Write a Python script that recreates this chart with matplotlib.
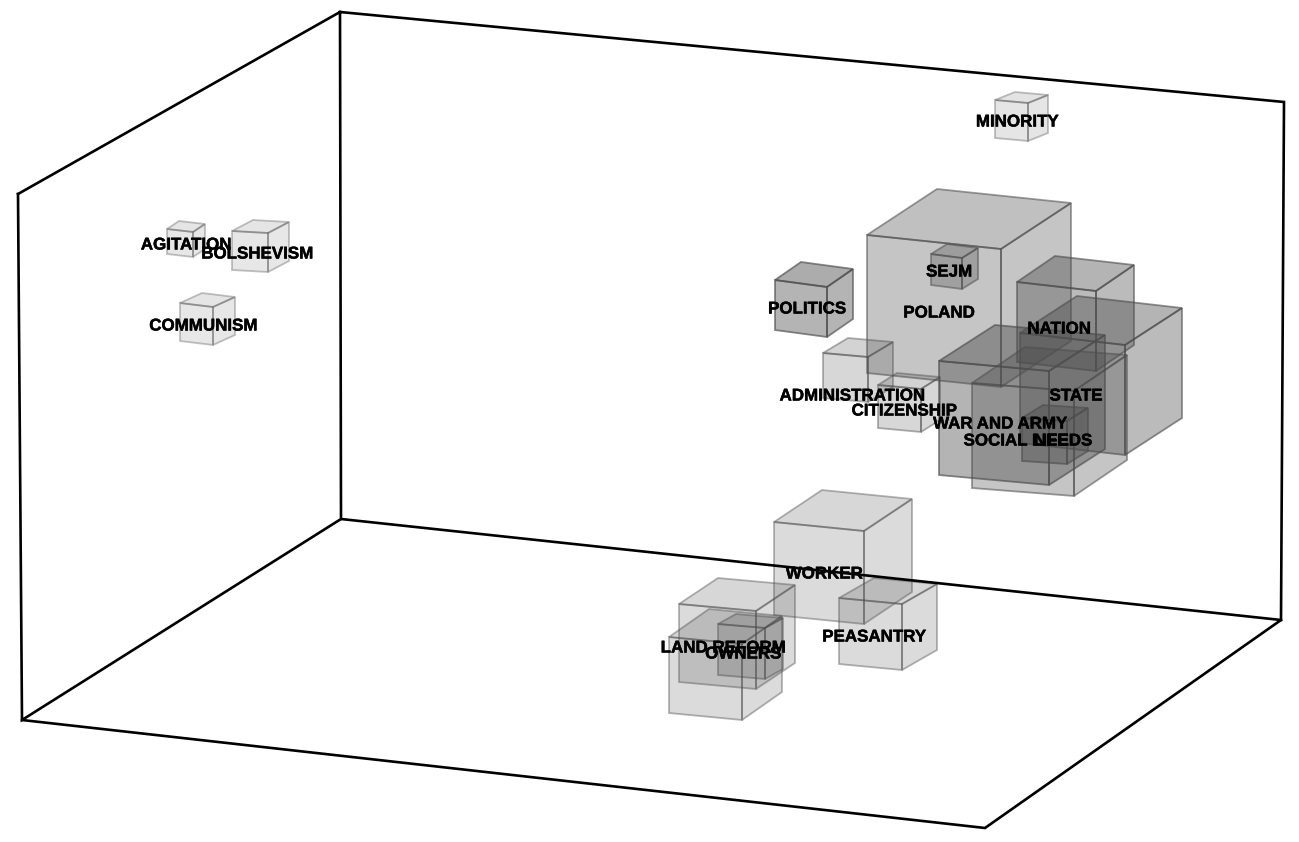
import matplotlib
matplotlib.use("Agg")
import matplotlib.pyplot as plt
import matplotlib.patheffects as pe
from matplotlib.patches import Polygon

names = ["POLAND", "MINORITY", "AGITATION", "BOLSHEVISM", "COMMUNISM", "SEJM", "POLITICS",
         "NATION", "STATE", "WAR AND ARMY", "SOCIAL LIFE", "NEEDS", "ADMINISTRATION",
         "CITIZENSHIP", "WORKER", "LAND REFORM", "", "OWNERS", "PEASANTRY"]
cube_x = [867, 995, 167, 232, 180, 931, 775, 1017, 1020, 939, 972, 1022, 823, 878, 774, 679, 669, 718, 839]
cube_y = [235, 100, 229, 231, 303, 254, 280, 282, 333, 361, 383, 418, 353, 385, 522, 604, 637, 624, 598]
cube_w = [134, 33, 26, 36, 33, 31, 52, 79, 105, 110, 102, 45, 45, 43, 90, 77, 73, 47, 63]
cube_drop = [14, 3, 3, 2, 4, 4, 7, 9, 12, 10, 8, 3, 4, 4, 9, 7, 7, 4, 6]
cube_h = [138, 38, 25, 39, 38, 31, 50, 80, 110, 114, 105, 43, 45, 43, 93, 78, 76, 51, 66]
cube_dx = [70, 20, 12, 21, 22, 16, 26, 38, 57, 56, 53, 21, 25, 19, 48, 39, 40, 18, 35]
cube_dy = [-46, -8, -8, -11, -10, -10, -18, -26, -37, -36, -36, -13, -15, -12, -32, -26, -28, -10, -20]
cube_shade = [.32, .14, .13, .13, .13, .30, .42, .38, .38, .42, .32, .40, .22, .22, .20, .20, .20, .22, .20]
label_x = [939, 1017, 186, 257, 203, 949, 807, 1059, 1076, 1000, 1016, 1063, 852, 904, 824, 723, 0, 743, 874]
label_y = [313, 122, 245, 254, 326, 272, 309, 329, 396, 424, 441, 441, 396, 411, 574, 648, 0, 654, 637]

wall_top_back = (340, 12)
wall_top_right = (1284, 102)
wall_bottom_right = (1281, 620)
wall_bottom_back = (341, 519)
wall_top_left = (18, 194)
wall_bottom_left = (22, 720)
floor_front = (985, 828)
frame_paths = [
    [wall_top_left, wall_top_back, wall_top_right, wall_bottom_right, wall_bottom_back, wall_top_back],
    [wall_top_left, wall_bottom_left, wall_bottom_back],
    [wall_bottom_left, floor_front, wall_bottom_right],
]

fig = plt.figure(figsize=(12.99, 8.42), dpi=100, facecolor="white")
ax = fig.add_axes([0, 0, 1, 1])
ax.set_xlim(0, 1299)
ax.set_ylim(842, 0)
ax.axis("off")

GRAY = "#4d4d4d"
for x, y, w, drop, h, dx, dy, a in zip(cube_x, cube_y, cube_w, cube_drop, cube_h, cube_dx, cube_dy, cube_shade):
    tl = (x, y)
    tr = (x + w, y + drop)
    bl = (x, y + h)
    br = (x + w, y + drop + h)
    btl = (x + dx, y + dy)
    btr = (x + w + dx, y + drop + dy)
    bbr = (x + w + dx, y + drop + h + dy)
    faces = [([tl, tr, br, bl], a), ([tr, btr, bbr, br], a), ([tl, btl, btr, tr], min(1, a * 1.1))]
    for pts, fa in faces:
        ax.add_patch(Polygon(pts, closed=True, facecolor=GRAY, alpha=fa, edgecolor="none", zorder=2))
        ax.add_patch(Polygon(pts, closed=True, fill=False, edgecolor=GRAY,
                             alpha=min(1, a * 1.1 + 0.2), linewidth=1.3, zorder=2.1))

for path in frame_paths:
    xs, ys = zip(*path)
    ax.plot(xs, ys, color="black", linewidth=1.9, solid_joinstyle="miter", zorder=3)

for name, lx, ly in zip(names, label_x, label_y):
    if name:
        ax.text(lx, ly, name, ha="center", va="center", fontsize=12.2, fontweight="bold",
                family="Liberation Sans", color="black", zorder=4,
                path_effects=[pe.withStroke(linewidth=0.35, foreground="black")])

fig.savefig("out.png", dpi=100, facecolor="white")
